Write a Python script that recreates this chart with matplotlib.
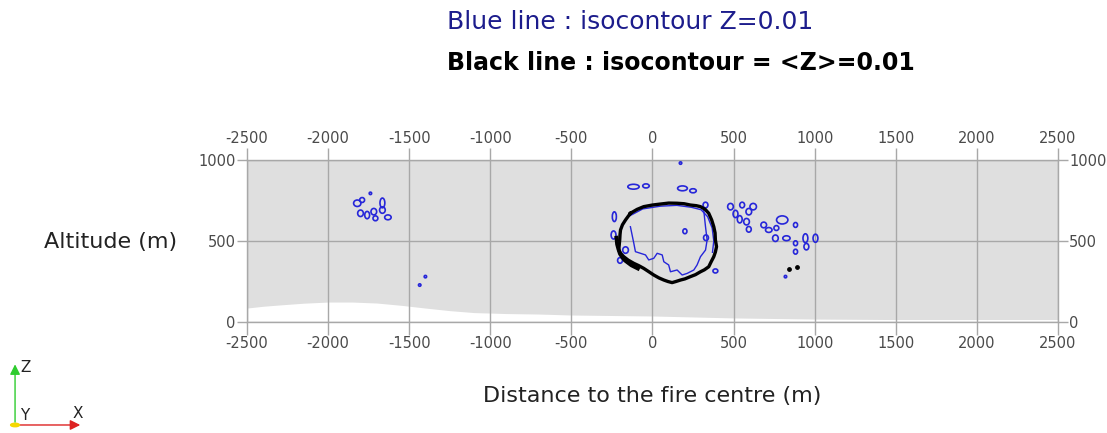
#!/usr/bin/env python3
"""Isocontour slice of the fire plume: Z=0.01 (blue) and <Z>=0.01 (black)."""

import matplotlib
matplotlib.use("Agg")
import matplotlib.pyplot as plt
from matplotlib.patches import Ellipse, FancyArrowPatch, Circle

plt.rcParams["axes.unicode_minus"] = False

# ---- data (metres) ----
x_ticks = [-2500, -2000, -1500, -1000, -500, 0, 500, 1000, 1500, 2000, 2500]
y_ticks = [0, 500, 1000]

# terrain height profile (white area under the domain)
terrain_x = [-2500, -2400, -2300, -2150, -2000, -1850, -1700, -1550, -1400, -1250, -1100,
             -900, -700, -500, 0, 500, 1000, 1500, 2000, 2500]
terrain_y = [86, 97, 105, 116, 123, 123, 117, 103, 86, 70, 58,
             52, 49, 43, 37, 25, 18, 15, 15, 15]

# black isocontour <Z>=0.01 (closed ring)
ring_x = [-136, -95, -54, 0, 49, 100, 152, 195, 234, 270, 296, 325, 347, 365, 378, 386, 388,
          395, 388, 378, 362, 347, 320, 296, 265, 234, 200, 173, 145, 121,
          95, 70, 40, 8, -25, -54, -85, -115, -150, -177, -195, -208, -205, -202, -200,
          -197, -185, -166, -150, -136]
ring_y = [671, 695, 712, 722, 728, 734, 733, 730, 722, 718, 712, 695, 671, 630, 588, 550, 506,
          465, 432, 403, 372, 341, 322, 310, 292, 280, 266, 259, 250, 243,
          250, 259, 272, 290, 312, 331, 348, 362, 382, 403, 422, 444, 475, 506, 540,
          568, 600, 630, 652, 671]
# thick black smear on the lower-left of the ring
smear_x = [-222, -218, -210, -200, -185, -170, -150, -130, -110, -90]
smear_y = [520, 480, 450, 420, 398, 380, 365, 350, 340, 330]
# isolated black spots
spot_x = [840, 892]
spot_y = [327, 340]

# blue isocontour Z=0.01: wiggly line inside the ring
inner_x = [-136, -115, -105, -43, -23, 8, 29, 60, 70, 100, 111, 152, 183, 214, 255, 275,
           296, 327, 337, 327, 316]
inner_y = [588, 486, 434, 414, 383, 393, 424, 414, 372, 352, 310, 321, 290, 300, 321, 352,
           403, 444, 506, 588, 691]
# blue line running along the top / right of the ring
outer_x = [-150, -60, 50, 150, 240, 300, 340, 368, 378, 370]
outer_y = [650, 698, 715, 720, 708, 693, 650, 580, 500, 430]

# small blue contour loops: centre x, centre y, width, height
blob_x = [-1820, -1790, -1800, -1759, -1718, -1708, -1665, -1665, -1631, -1739,
          -1400, -1435,
          -117, -40, 185, 250, 173,
          -235, -240, -166, -200, 200, 330,
          327, 481, 553, 621, 512, 594, 538, 580, 594, 686, 717, 800, 882, 764,
          758, 826, 882, 943, 1005, 949, 882, 388, 820]
blob_y = [733, 753, 671, 660, 681, 640, 735, 691, 646, 794,
          280, 228,
          835, 840, 825, 810, 981,
          650, 537, 444, 380, 560, 520,
          722, 712, 722, 712, 667, 681, 634, 619, 572, 599, 568, 630, 599, 580,
          517, 517, 486, 517, 517, 465, 434, 315, 280]
blob_w = [45, 30, 35, 30, 35, 30, 30, 35, 40, 15,
          15, 15,
          70, 40, 60, 40, 15,
          25, 30, 35, 30, 25, 30,
          30, 35, 30, 40, 30, 35, 30, 35, 30, 35, 40, 70, 25, 30,
          35, 45, 25, 30, 30, 30, 25, 30, 15]
blob_h = [40, 30, 40, 45, 40, 30, 60, 40, 30, 15,
          15, 15,
          30, 25, 30, 25, 15,
          60, 50, 40, 35, 30, 35,
          35, 40, 35, 40, 45, 40, 45, 40, 35, 35, 30, 50, 30, 30,
          40, 30, 30, 55, 50, 40, 30, 25, 15]

BLUE = "#2626d9"
GRID = "#a8a8a8"
TXT = "#4a4a4a"

fig = plt.figure(figsize=(11.07, 4.33), dpi=100)
ax = fig.add_axes([0.2231, 0.2564, 0.7326, 0.3741])
ax.set_facecolor("#dfdfdf")
ax.set_xlim(-2500, 2500)
ax.set_ylim(0, 1000)

ax.fill_between(terrain_x, 0, terrain_y, color="white", lw=0, zorder=1)

for xv in x_ticks:
    ax.axvline(xv, color=GRID, lw=1.0, zorder=2)
for yv in y_ticks:
    ax.axhline(yv, color=GRID, lw=1.0, zorder=2)

# blue contours
ax.plot(outer_x, outer_y, color=BLUE, lw=1.0, zorder=3)
ax.plot(inner_x, inner_y, color=BLUE, lw=1.0, zorder=3)
for bx, by, bw, bh in zip(blob_x, blob_y, blob_w, blob_h):
    ax.add_patch(Ellipse((bx, by), bw, bh, fill=False, edgecolor=BLUE, lw=1.2, zorder=3))

# black contours
ax.plot(ring_x, ring_y, color="black", lw=2.4, zorder=4)
ax.plot(smear_x, smear_y, color="black", lw=2.8, zorder=4)
ax.scatter(spot_x, spot_y, s=6, color="black", zorder=4)

for s in ax.spines.values():
    s.set_color(GRID)
    s.set_linewidth(1.0)

ax.set_xticks(x_ticks)
ax.set_yticks(y_ticks)
ax.tick_params(axis="x", colors=GRID, labelcolor=TXT, labelsize=10.5, length=9, width=1.0,
               top=True, labeltop=True, pad=1)
ax.tick_params(axis="y", colors=GRID, labelcolor=TXT, labelsize=10.5, length=7, width=1.0,
               right=True, labelright=True, pad=1)

fig.text(0.4038, 0.949, "Blue line : isocontour Z=0.01", color="#1c1c8c", fontsize=18,
         ha="left", va="center")
fig.text(0.4038, 0.8545, "Black line : isocontour = <Z>=0.01", color="black", fontsize=17,
         fontweight="bold", ha="left", va="center")
fig.text(0.1003, 0.441, "Altitude (m)", color="#222222", fontsize=16, ha="center", va="center")
fig.text(0.589, 0.0855, "Distance to the fire centre (m)", color="#222222", fontsize=16,
         ha="center", va="center")

# orientation triad
ox, oy = 0.0136, 0.0185
fig.add_artist(FancyArrowPatch((ox, oy), (ox, 0.165), transform=fig.transFigure,
               arrowstyle="-|>,head_length=6,head_width=3", color="#2ecc2e", lw=1.0))
fig.add_artist(FancyArrowPatch((ox, oy), (0.075, oy), transform=fig.transFigure,
               arrowstyle="-|>,head_length=6,head_width=3", color="#dd2222", lw=1.0))
fig.add_artist(Circle((ox, oy), 0.004, transform=fig.transFigure, color="#f5d800", zorder=5))
fig.text(0.0235, 0.152, "Z", fontsize=11, color="#222222", ha="center", va="center")
fig.text(0.0225, 0.040, "Y", fontsize=11, color="#222222", ha="center", va="center")
fig.text(0.0700, 0.044, "X", fontsize=11, color="#222222", ha="center", va="center")

plt.savefig("out.png", dpi=100)
plt.close()
